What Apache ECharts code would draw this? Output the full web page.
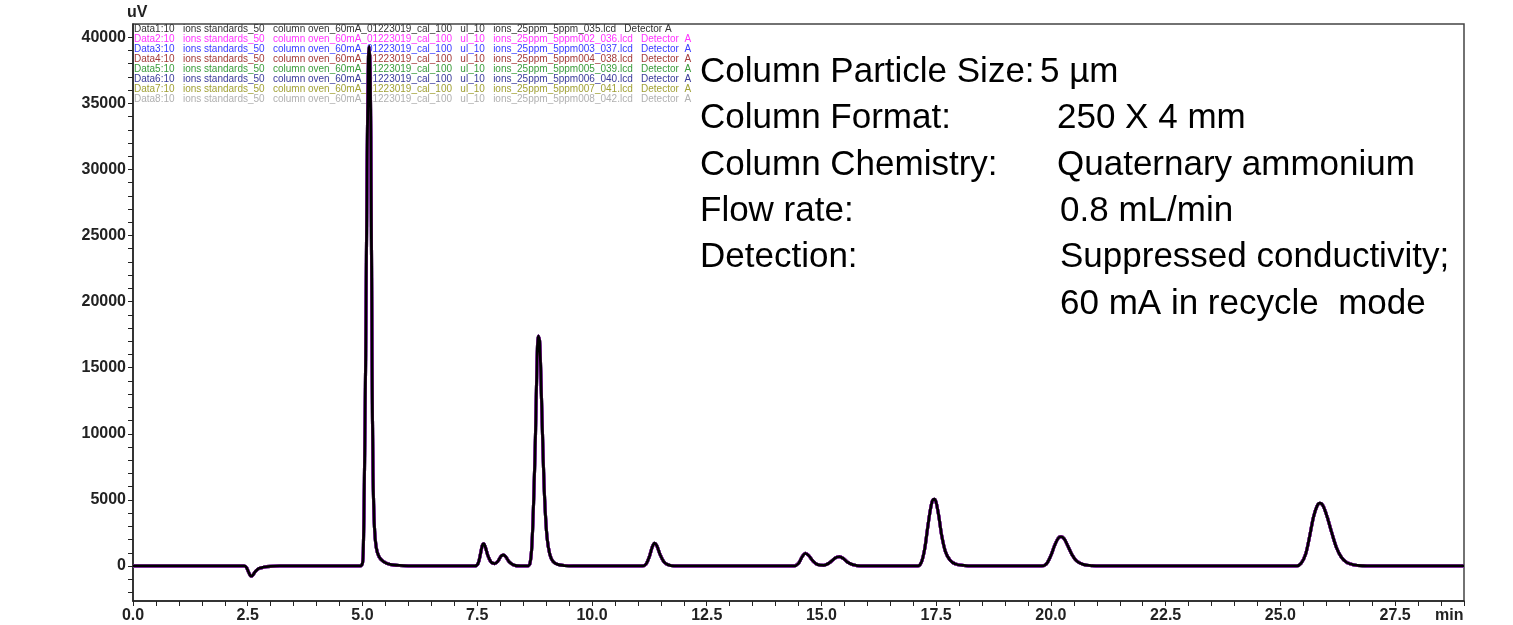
<!DOCTYPE html>
<html>
<head>
<meta charset="utf-8">
<title>Chromatogram</title>
<script src="https://cdn.jsdelivr.net/npm/echarts@6/dist/echarts.min.js"></script>
<style>
  html, body { margin: 0; padding: 0; background: #fff; }
  #chart { width: 1513px; height: 625px; }
</style>
</head>
<body>
<div id="chart"></div>
<script>
// retention time (min) and detector signal (uV)
var timeMin = [
  0, 1.0, 2.0, 2.42, 2.47, 2.51, 2.55, 2.58, 2.62, 2.67, 2.74, 2.85, 3.0, 3.2, 4.0,
  4.95, 5.0, 5.02, 5.04, 5.07, 5.1, 5.13, 5.15, 5.17, 5.19, 5.21, 5.23, 5.26, 5.3, 5.36, 5.45, 5.6, 5.8, 6.2,
  7.45, 7.52, 7.57, 7.61, 7.64, 7.68, 7.73, 7.8, 7.88, 7.95, 8.02, 8.07, 8.12, 8.2, 8.3, 8.45,
  8.6, 8.65, 8.69, 8.73, 8.77, 8.8, 8.83, 8.86, 8.89, 8.93, 8.97, 9.02, 9.08, 9.15, 9.25, 9.4, 9.6,
  11.1, 11.18, 11.25, 11.31, 11.36, 11.41, 11.48, 11.56, 11.65, 11.8,
  14.4, 14.5, 14.58, 14.65, 14.72, 14.82, 14.92, 15.05, 15.18, 15.3, 15.39, 15.48, 15.58, 15.7, 15.85,
  17.1, 17.18, 17.25, 17.31, 17.37, 17.42, 17.46, 17.5, 17.56, 17.62, 17.7, 17.8, 17.92, 18.1, 18.3,
  19.8, 19.9, 20.0, 20.08, 20.16, 20.22, 20.29, 20.37, 20.46, 20.56, 20.7, 20.9, 21.1,
  25.35, 25.45, 25.55, 25.64, 25.72, 25.8, 25.86, 25.93, 26.02, 26.12, 26.22, 26.33, 26.45, 26.6, 26.8, 27.0, 29
];
var signalUV = [
  0, 0, 0, 0, -100, -400, -700, -770, -650, -400, -200, -90, -30, 0, 0,
  0, 200, 1500, 6000, 16000, 30000, 38500, 39300, 37000, 28000, 15000, 7000, 3000, 1400, 700, 350, 120, 40, 0,
  0, 200, 900, 1550, 1680, 1400, 800, 300, 180, 350, 750, 830, 700, 300, 60, 0,
  0, 200, 1500, 5000, 10000, 15000, 17400, 17000, 14000, 9000, 5000, 2200, 900, 350, 120, 30, 0,
  0, 150, 700, 1400, 1720, 1550, 900, 350, 100, 0,
  0, 200, 700, 960, 800, 350, 100, 50, 250, 600, 710, 560, 260, 80, 0,
  0, 300, 1300, 2800, 4200, 4950, 5050, 4800, 3700, 2300, 1100, 450, 150, 40, 0,
  0, 150, 800, 1550, 2100, 2220, 2050, 1500, 850, 380, 120, 20, 0,
  0, 200, 900, 2300, 3700, 4550, 4750, 4550, 3700, 2500, 1400, 650, 250, 80, 15, 0, 0
];

var runNames = [
  'Data1:10   ions standards_50   column oven_60mA_01223019_cal_100   ul_10   ions_25ppm_5ppm_035.lcd   Detector A',
  'Data2:10   ions standards_50   column oven_60mA_01223019_cal_100   ul_10   ions_25ppm_5ppm002_036.lcd   Detector  A',
  'Data3:10   ions standards_50   column oven_60mA_01223019_cal_100   ul_10   ions_25ppm_5ppm003_037.lcd   Detector  A',
  'Data4:10   ions standards_50   column oven_60mA_01223019_cal_100   ul_10   ions_25ppm_5ppm004_038.lcd   Detector  A',
  'Data5:10   ions standards_50   column oven_60mA_01223019_cal_100   ul_10   ions_25ppm_5ppm005_039.lcd   Detector  A',
  'Data6:10   ions standards_50   column oven_60mA_01223019_cal_100   ul_10   ions_25ppm_5ppm006_040.lcd   Detector  A',
  'Data7:10   ions standards_50   column oven_60mA_01223019_cal_100   ul_10   ions_25ppm_5ppm007_041.lcd   Detector  A',
  'Data8:10   ions standards_50   column oven_60mA_01223019_cal_100   ul_10   ions_25ppm_5ppm008_042.lcd   Detector  A'
];
var runColors = ['#333333', '#ff33ff', '#3b3bff', '#a33a3a', '#3a9a3a', '#3a3a9a', '#a0a035', '#b0b0b0'];

var xTickValues = [];
for (var t = 0; t <= 29; t += 0.5) xTickValues.push(t);
var xLabelValues = [0, 2.5, 5, 7.5, 10, 12.5, 15, 17.5, 20, 22.5, 25, 27.5];
var yTickValues = [];
for (var v = -2000; v <= 40000; v += 1000) yTickValues.push(v);
var yLabelValues = [0, 5000, 10000, 15000, 20000, 25000, 30000, 35000, 40000];

var specNames = ['Column Particle Size:', 'Column Format:', 'Column Chemistry:', 'Flow rate:', 'Detection:', ''];
var specValues = ['5 µm', '250 X 4 mm', 'Quaternary ammonium', '0.8 mL/min', 'Suppressed conductivity;', '60 mA in recycle  mode'];

var trace = timeMin.map(function (t, i) { return [t, signalUV[i]]; });

var chart = echarts.init(document.getElementById('chart'));

// drawn bottom-up so Data1 (black) ends on top
var series = [];
for (var i = runNames.length - 1; i >= 0; i--) {
  series.push({
    name: runNames[i],
    type: 'line',
    data: trace,
    showSymbol: false,
    smooth: 0.3,
    z: 10 - i,
    lineStyle: { color: i === 0 ? '#000' : runColors[i], width: i === 0 ? 2.8 : 3.1 },
    itemStyle: { color: runColors[i] },
    animation: false
  });
}

var tickFont = { fontFamily: 'Liberation Sans', fontWeight: 'bold', fontSize: 16, color: '#222' };

var graphics = [];
specNames.forEach(function (s, i) {
  var y = 72 + i * 46.3;
  if (s) graphics.push({ type: 'text', left: 700, top: y - 17, style: { text: s, font: '35px "Liberation Sans"', fill: '#000' } });
  graphics.push({ type: 'text', left: i === 0 ? 1040 : (i < 3 ? 1057 : 1060), top: y - 17, style: { text: specValues[i], font: '35px "Liberation Sans"', fill: '#000' } });
});

var option = {
  animation: false,
  grid: { left: 133, right: 49, top: 24, bottom: 24, show: true, borderColor: '#444', borderWidth: 1.5 },
  legend: {
    data: runNames.map(function (n, i) { return { name: n, textStyle: { color: runColors[i] } }; }),
    orient: 'vertical',
    left: 129, top: 24,
    padding: 0,
    itemGap: 0,
    itemWidth: 0,
    itemHeight: 9.7,
    icon: 'none',
    selectedMode: false,
    textStyle: { fontFamily: 'Liberation Sans', fontSize: 10, lineHeight: 9.7 }
  },
  xAxis: {
    type: 'value',
    min: 0, max: 29,
    name: 'min',
    nameLocation: 'end',
    nameGap: -29,
    nameTextStyle: { fontFamily: 'Liberation Sans', fontWeight: 'bold', fontSize: 16, color: '#222', verticalAlign: 'top', padding: [7, 0, 0, 0] },
    axisLine: { onZero: false, lineStyle: { color: '#222', width: 1.5 } },
    axisTick: { show: true, length: 5, customValues: xTickValues, lineStyle: { color: '#222' } },
    axisLabel: Object.assign({ margin: 7, customValues: xLabelValues, formatter: function (v) { return v.toFixed(1); } }, tickFont),
    splitLine: { show: false }
  },
  yAxis: {
    type: 'value',
    min: -2650, max: 41000,
    name: 'uV',
    nameLocation: 'end',
    nameGap: 3,
    nameTextStyle: { fontFamily: 'Liberation Sans', fontWeight: 'bold', fontSize: 16, color: '#222', align: 'left', padding: [0, 0, 0, -6] },
    axisLine: { show: true, onZero: false, lineStyle: { color: '#222', width: 1.5 } },
    axisTick: { show: true, length: 5, customValues: yTickValues, lineStyle: { color: '#222' } },
    axisLabel: Object.assign({ margin: 7, customValues: yLabelValues, formatter: function (v) { return String(v); } }, tickFont),
    splitLine: { show: false }
  },
  graphic: graphics,
  series: series
};

chart.setOption(option);
</script>
</body>
</html>
